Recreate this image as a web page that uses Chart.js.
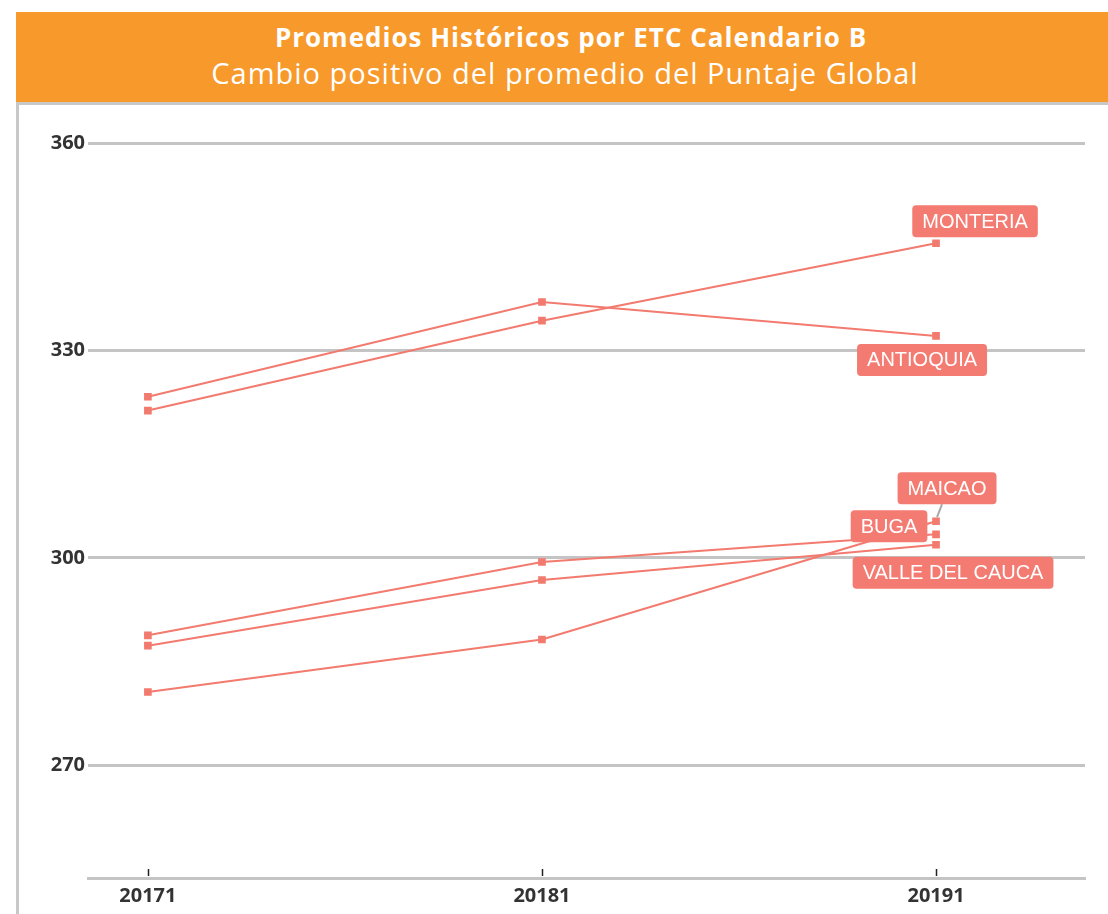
<!DOCTYPE html>
<html>
<head>
<meta charset="utf-8">
<script src="https://cdn.jsdelivr.net/npm/chart.js@4/dist/chart.umd.min.js"></script>
<style>
  body { margin: 0; background: #fff; }
  #wrap { position: relative; width: 1108px; height: 914px; overflow: hidden; }
  #head {
    position: absolute; left: 16px; top: 12px; width: 1092px; height: 90px;
    background: #F7992B; color: #fff; text-align: center;
    font-family: "Open Sans", sans-serif;
  }
  #head .t1 { font-weight: bold; font-size: 26px; letter-spacing: 1px; margin-top: 8px; line-height: 34px; padding-left: 18px; }
  #head .t2 { font-weight: normal; font-size: 29px; letter-spacing: 1px; line-height: 38px; padding-left: 6px; }
  #frame {
    position: absolute; left: 16px; top: 102px; width: 1100px; height: 820px;
    border-left: 3px solid #c8c8c8; border-top: 3px solid #c8c8c8;
  }
  #myChart { position: absolute; left: 0; top: 0; }
</style>
</head>
<body>
<div id="wrap">
  <div id="head">
    <div class="t1">Promedios Históricos por ETC Calendario B</div>
    <div class="t2">Cambio positivo del promedio del Puntaje Global</div>
  </div>
  <div id="frame"></div>
  <canvas id="myChart" width="1108" height="914"></canvas>
</div>
<script>
// periods (x) and y-axis ticks
const periods = [20171, 20181, 20191];
const yTicks = [270, 300, 330, 360];

// promedio del puntaje global per ETC
const names = ["MONTERIA", "ANTIOQUIA", "MAICAO", "BUGA", "VALLE DEL CAUCA"];
const monteria = [321.3, 334.3, 345.5];
const antioquia = [323.3, 337.0, 332.1];
const maicao = [280.6, 288.2, 305.3];
const buga = [288.8, 299.4, 303.4];
const valle = [287.3, 296.8, 301.9];

const seriesValues = [monteria, antioquia, maicao, buga, valle];

// where each end label sits relative to its last point (px)
const labelOffsets = {
  "MONTERIA": [39, -22],
  "ANTIOQUIA": [-14, 24],
  "MAICAO": [11, -33],
  "BUGA": [-47, -8],
  "VALLE DEL CAUCA": [17, 28],
};

const lineColor = "#F27A6E";
const boxColor = "#F47B72";
const tickFont = { family: "'Open Sans', sans-serif", size: 20, weight: "bold" };

const datasets = names.map((name, i) => {
  return {
    label: name,
    data: periods.map((p, j) => ({ x: p, y: seriesValues[i][j] })),
    borderColor: lineColor,
    backgroundColor: lineColor,
    borderWidth: 2,
    pointStyle: "rect",
    pointRadius: 4,
    pointHoverRadius: 4,
    tension: 0,
  };
});

function roundRect(ctx, x, y, w, h, r) {
  ctx.beginPath();
  ctx.moveTo(x + r, y);
  ctx.lineTo(x + w - r, y);
  ctx.quadraticCurveTo(x + w, y, x + w, y + r);
  ctx.lineTo(x + w, y + h - r);
  ctx.quadraticCurveTo(x + w, y + h, x + w - r, y + h);
  ctx.lineTo(x + r, y + h);
  ctx.quadraticCurveTo(x, y + h, x, y + h - r);
  ctx.lineTo(x, y + r);
  ctx.quadraticCurveTo(x, y, x + r, y);
  ctx.closePath();
}

// small tick marks above the x axis + the end labels
const endLabels = {
  id: "endLabels",
  afterDatasetsDraw(chart) {
    const ctx = chart.ctx;
    const xs = chart.scales.x;
    const ys = chart.scales.y;
    const area = chart.chartArea;

    ctx.save();
    ctx.strokeStyle = "#222";
    ctx.lineWidth = 1.5;
    periods.forEach((p) => {
      const px = Math.round(xs.getPixelForValue(p)) + 0.5;
      ctx.beginPath();
      ctx.moveTo(px, area.bottom - 9);
      ctx.lineTo(px, area.bottom - 2);
      ctx.stroke();
    });

    ctx.font = "20px 'Liberation Sans', Arial, sans-serif";
    ctx.textAlign = "center";
    ctx.textBaseline = "middle";
    names.forEach((name, i) => {
      const last = seriesValues[i][periods.length - 1];
      const px = xs.getPixelForValue(periods[periods.length - 1]);
      const py = ys.getPixelForValue(last);
      const off = labelOffsets[name];
      const cx = px + off[0];
      const cy = py + off[1];
      const w = ctx.measureText(name).width + 20;
      const h = 32;
      if (name === "MAICAO") {
        ctx.strokeStyle = "#aaa";
        ctx.lineWidth = 2;
        ctx.beginPath();
        ctx.moveTo(px + 1, py - 4);
        ctx.lineTo(cx - 5, cy + h / 2);
        ctx.stroke();
      }
      ctx.fillStyle = boxColor;
      roundRect(ctx, cx - w / 2, cy - h / 2, w, h, 4);
      ctx.fill();
      ctx.fillStyle = "#fff";
      ctx.fillText(name, cx, cy + 1);
    });
    ctx.restore();
  },
};

const ctx = document.getElementById("myChart");
new Chart(ctx, {
  type: "line",
  data: { datasets: datasets },
  plugins: [endLabels],
  options: {
    responsive: false,
    animation: false,
    layout: { padding: { left: 0, right: 23, top: 143, bottom: 0 } },
    plugins: { legend: { display: false }, tooltip: { enabled: false } },
    scales: {
      x: {
        type: "linear",
        min: 20169.48,
        max: 20194.78,
        afterBuildTicks: (axis) => {
          axis.ticks = periods.map((v) => ({ value: v }));
        },
        afterFit: (axis) => {
          axis.height = 36;
        },
        ticks: {
          autoSkip: false,
          maxRotation: 0,
          padding: 6,
          color: "#333",
          font: tickFont,
          callback: (v) => String(v),
        },
        grid: { drawOnChartArea: false, drawTicks: false },
        border: { color: "#c4c4c4", width: 3 },
      },
      y: {
        min: 253.7,
        max: 360,
        afterBuildTicks: (axis) => {
          axis.ticks = yTicks.map((v) => ({ value: v }));
        },
        afterFit: (axis) => {
          axis.width = 88;
        },
        ticks: {
          padding: 3,
          color: "#333",
          font: tickFont,
        },
        grid: { color: "#c4c4c4", lineWidth: 3, drawTicks: false },
        border: { display: false },
      },
    },
  },
});
</script>
</body>
</html>
